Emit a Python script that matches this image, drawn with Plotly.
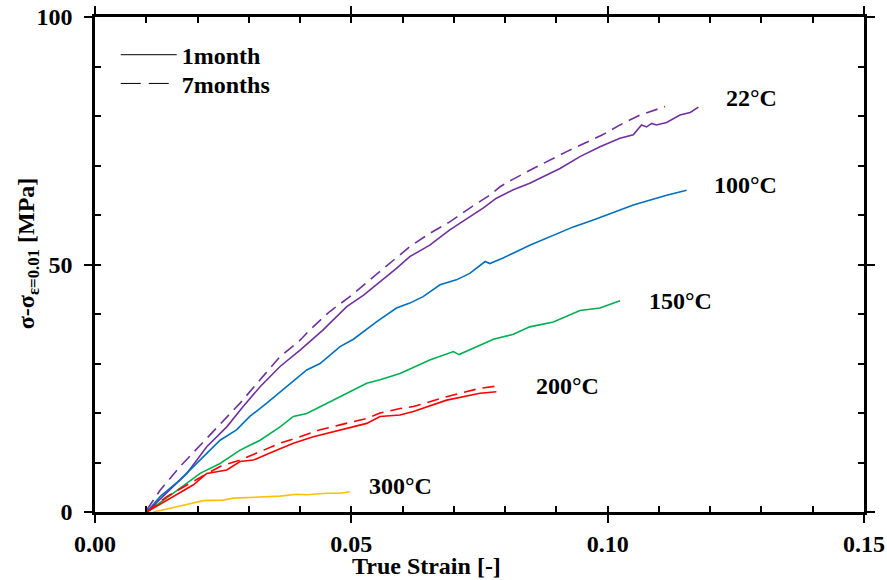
import plotly.graph_objects as go

# ---- data (strain [-], stress [MPa]) ----
x_22_1m = [0.0101, 0.0140, 0.0179, 0.0218, 0.0257, 0.0289, 0.0322, 0.0361, 0.0400, 0.0445, 0.0458, 0.0491,
           0.0524, 0.0556, 0.0588, 0.0614, 0.0653, 0.0692, 0.0731, 0.0757, 0.0783, 0.0816, 0.0848, 0.0868,
           0.0907, 0.0946, 0.0985, 0.1024, 0.1050, 0.1066, 0.1076, 0.1086, 0.1095, 0.1115, 0.1141, 0.1161, 0.1177]
y_22_1m = [0.0, 3.8, 7.8, 13.2, 17.2, 21.3, 25.3, 29.4, 32.7, 36.8, 38.1, 41.5,
           43.8, 46.5, 49.2, 51.6, 53.9, 57.0, 59.7, 61.4, 63.4, 65.1, 66.4, 67.4,
           69.4, 71.8, 73.8, 75.5, 76.2, 78.2, 77.8, 78.5, 78.2, 78.7, 80.2, 80.7, 81.8]

x_22_7m = [0.0101, 0.0127, 0.0166, 0.0205, 0.0244, 0.0283, 0.0322, 0.0361, 0.0400, 0.0419, 0.0458, 0.0497,
           0.0536, 0.0575, 0.0614, 0.0653, 0.0692, 0.0731, 0.0770, 0.0790, 0.0813, 0.0855, 0.0920, 0.0990,
           0.1024, 0.1063, 0.1112]
y_22_7m = [0.4, 4.4, 9.2, 13.5, 17.9, 22.0, 26.7, 31.4, 34.7, 36.8, 40.5, 43.5,
           46.9, 50.2, 53.6, 56.3, 58.6, 61.4, 64.0, 65.7, 67.1, 69.4, 72.8, 76.2,
           78.2, 80.2, 81.9]

x_100_1m = [0.0101, 0.0127, 0.0166, 0.0198, 0.0244, 0.0276, 0.0302, 0.0335, 0.0374, 0.0413, 0.0439, 0.0478,
            0.0504, 0.0549, 0.0588, 0.0614, 0.0640, 0.0673, 0.0705, 0.0731, 0.0761, 0.0770, 0.0796, 0.0822,
            0.0848, 0.0933, 0.0972, 0.1050, 0.1115, 0.1154]
y_100_1m = [0.0, 3.1, 6.5, 9.8, 14.5, 16.6, 19.3, 22.0, 25.3, 28.7, 30.0, 33.4,
            34.9, 38.4, 41.2, 42.2, 43.5, 45.9, 46.9, 48.2, 50.6, 50.2, 51.3, 52.6,
            53.9, 57.6, 59.0, 62.0, 64.0, 65.0]

x_150_1m = [0.0101, 0.0153, 0.0205, 0.0244, 0.0283, 0.0322, 0.0361, 0.0387, 0.0413, 0.0439, 0.0478, 0.0530,
            0.0556, 0.0595, 0.0653, 0.0699, 0.0710, 0.0751, 0.0777, 0.0816, 0.0848, 0.0894, 0.0946, 0.0985, 0.1024]
y_150_1m = [0.0, 3.8, 7.8, 9.8, 12.5, 14.5, 17.2, 19.3, 19.9, 21.3, 23.3, 26.0,
            26.7, 28.0, 30.7, 32.4, 31.8, 33.7, 34.9, 35.9, 37.4, 38.4, 40.7, 41.2, 42.7]

x_200_1m = [0.0101, 0.0153, 0.0192, 0.0218, 0.0257, 0.0283, 0.0309, 0.0348, 0.0387, 0.0426, 0.0478, 0.0530,
            0.0556, 0.0595, 0.0621, 0.0686, 0.0751, 0.0783]
y_200_1m = [0.0, 3.1, 5.5, 7.8, 8.5, 10.2, 10.5, 12.2, 13.9, 15.2, 16.6, 17.9,
            19.3, 19.6, 20.3, 22.6, 24.0, 24.3]

x_200_7m = [0.0101, 0.0140, 0.0185, 0.0244, 0.0283, 0.0322, 0.0361, 0.0400, 0.0439, 0.0478, 0.0530, 0.0556,
            0.0595, 0.0621, 0.0686, 0.0751, 0.0787]
y_200_7m = [0.0, 3.1, 5.8, 9.2, 10.5, 12.2, 13.9, 15.2, 16.6, 17.6, 18.9, 20.0,
            20.9, 21.3, 23.3, 25.0, 25.5]

x_300_1m = [0.0114, 0.0146, 0.0166, 0.0211, 0.0250, 0.0270, 0.0322, 0.0361, 0.0393, 0.0413, 0.0452, 0.0478, 0.0497]
y_300_1m = [0.0, 0.7, 1.2, 2.3, 2.4, 2.8, 3.1, 3.2, 3.6, 3.5, 3.8, 3.8, 4.1]

temp_labels = ["22°C", "100°C", "150°C", "200°C", "300°C"]
label_x = [0.1227, 0.1203, 0.1077, 0.0856, 0.0531]
label_y = [83.6, 66.1, 42.6, 25.5, 5.3]

legend_names = ["1month", "7months"]

x_range = [0.0, 0.15]
y_range = [0, 100]

PURPLE = "#7030A0"
BLUE = "#0070C0"
GREEN = "#00B050"
RED = "#FF0000"
YELLOW = "#FFC000"
FONT = "Liberation Serif"
FS = 24
DASH = "12px,7px"

fig = go.Figure()

series = [
    (x_22_1m, y_22_1m, PURPLE, "solid"),
    (x_22_7m, y_22_7m, PURPLE, DASH),
    (x_100_1m, y_100_1m, BLUE, "solid"),
    (x_150_1m, y_150_1m, GREEN, "solid"),
    (x_200_1m, y_200_1m, RED, "solid"),
    (x_200_7m, y_200_7m, RED, DASH),
    (x_300_1m, y_300_1m, YELLOW, "solid"),
]
for xs, ys, col, dash in series:
    fig.add_trace(go.Scatter(x=xs, y=ys, mode="lines", showlegend=False,
                             line=dict(color=col, width=1.6, dash=dash)))

# legend entries (two separate legends for exact placement)
fig.add_trace(go.Scatter(x=[None], y=[None], mode="lines", name="<b>%s</b>" % legend_names[0],
                         line=dict(color="black", width=1), legend="legend"))
fig.add_trace(go.Scatter(x=[None], y=[None], mode="lines", name="<b>%s</b>" % legend_names[1],
                         line=dict(color="black", width=1, dash="20px,8px"), legend="legend2"))

for t, lx, ly in zip(temp_labels, label_x, label_y):
    fig.add_annotation(x=lx, y=ly, text="<b>%s</b>" % t, showarrow=False,
                       xanchor="left", yanchor="middle",
                       font=dict(family=FONT, size=FS, color="black"))

fig.add_annotation(x=0.4317, y=-0.109, xref="paper", yref="paper",
                   text="<b>True Strain [-]</b>", showarrow=False,
                   xanchor="center", yanchor="middle",
                   font=dict(family=FONT, size=FS, color="black"))
fig.add_annotation(x=-0.087, y=0.523, xref="paper", yref="paper",
                   text="<b>σ-σ<sub>ε=0.01</sub> [MPa]</b>", showarrow=False,
                   textangle=-90, xanchor="center", yanchor="middle",
                   font=dict(family=FONT, size=FS, color="black"))

axis_common = dict(showgrid=False, zeroline=False, showline=True, linecolor="black",
                   linewidth=2.5, mirror="ticks", tickcolor="black", tickwidth=1.5,
                   automargin=False, ticklabeloverflow="allow")

legend_style = dict(xanchor="left", yanchor="middle", bgcolor="rgba(0,0,0,0)",
                    font=dict(family=FONT, size=FS, color="black"), itemwidth=56)

fig.update_layout(
    width=887, height=580,
    margin=dict(l=95, r=23, t=17, b=68, autoexpand=False),
    paper_bgcolor="white", plot_bgcolor="white",
    font=dict(family=FONT, color="black"),
    legend=dict(x=0.027, y=0.923, **legend_style),
    legend2=dict(x=0.027, y=0.865, **legend_style),
    xaxis=dict(range=x_range, tickvals=[0.0, 0.05, 0.1, 0.15],
               ticktext=["<b>0.00</b>", "<b>0.05</b>", "<b>0.10</b>", "<b>0.15</b>"],
               ticks="outside", ticklen=8, tickfont=dict(family=FONT, size=FS, color="black"),
               **axis_common),
    yaxis=dict(range=y_range, tickvals=[0, 50, 100],
               ticktext=["<b>0</b>", "<b>50</b>", "<b>100</b>"],
               ticks="outside", ticklen=8, ticklabelstandoff=7,
               tickfont=dict(family=FONT, size=FS, color="black"),
               **axis_common),
    xaxis2=dict(overlaying="x", anchor="y", side="bottom", range=x_range, matches="x",
                dtick=0.01, tick0=0, ticks="inside", ticklen=6, showticklabels=False,
                showgrid=False, zeroline=False, showline=False, mirror="ticks",
                tickcolor="black", tickwidth=1.5, automargin=False),
    yaxis2=dict(overlaying="y", anchor="x", side="left", range=y_range, matches="y",
                dtick=10, tick0=0, ticks="inside", ticklen=6, showticklabels=False,
                showgrid=False, zeroline=False, showline=False, mirror="ticks",
                tickcolor="black", tickwidth=1.5, automargin=False),
)
# dummy trace to activate the overlay axes
fig.add_trace(go.Scatter(x=[None], y=[None], xaxis="x2", yaxis="y2", showlegend=False,
                         hoverinfo="skip"))

# remove the default 8px page margin so the 887x580 figure fills the window exactly
fig.write_html("out.html", config={"displayModeBar": False},
               post_script="document.body.style.margin='0px';document.body.style.overflow='hidden';")
